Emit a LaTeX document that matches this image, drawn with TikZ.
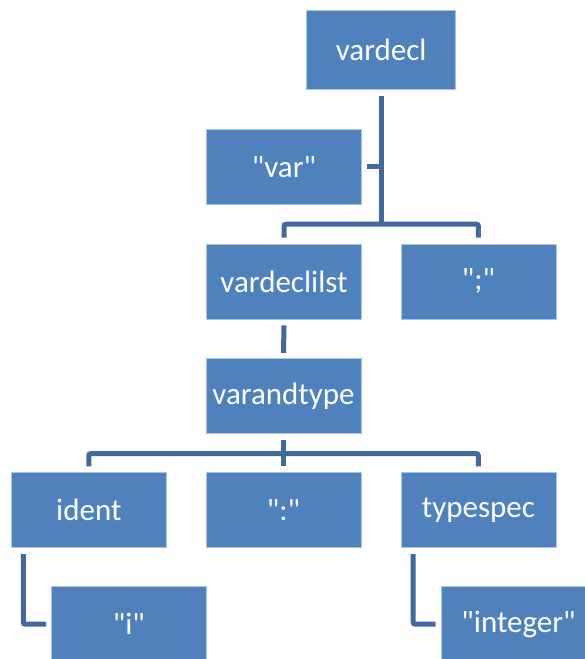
\documentclass[tikz,border=0pt]{standalone}
\usepackage{fontspec}
% plain family: no TeX ligature mapping, so " stays a straight quote
\newfontfamily\boxfont{Carlito}
\usetikzlibrary{calc}
\definecolor{boxfill}{HTML}{4F81BD}
\definecolor{boxedge}{HTML}{A9C3E3}
\definecolor{linkcol}{HTML}{41699C}
\tikzset{
  treebox/.style={rectangle, fill=boxfill, draw=boxedge, line width=0.7pt,
    minimum width=155pt, minimum height=75pt, inner sep=0pt,
    text=white, font=\boxfont\fontsize{31}{37}\selectfont},
  rootbox/.style={treebox, minimum width=149pt, minimum height=79pt},
  link/.style={draw=linkcol, line width=5pt, rounded corners=2pt}
}
\begin{document}
\begin{tikzpicture}[x=1pt, y=-1pt]
  \useasboundingbox (0,0) rectangle (585,659);
  \begin{scope}
    \clip (0,0) rectangle (585,659);
    % nodes
    \node[rootbox] (vardecl) at (381.2,50.3) {vardecl};
    \node[treebox] (var) at (284,166.8) {"var"};
    \node[treebox] (vardeclilst) at (284,281.5) {vardeclilst};
    \node[treebox] (semi) at (478.4,281.5) {";"};
    \node[treebox] (varandtype) at (283.5,395.8) {varandtype};
    \node[treebox] (ident) at (88.8,510.2) {ident};
    \node[treebox] (colon) at (283.5,510.2) {":"};
    \node[treebox] (typespec) at (478.4,510.2) {typespec};
    \node[treebox] (ival) at (128.9,624.2) {"i"};
    \node[treebox] (integer) at (518.5,624.2) {"integer"};

    % vardecl children
    \coordinate (bar1) at ($(vardecl.south)+(0,134)$);
    \draw[link] ($(vardecl.south)+(0,6)$) -- ($(bar1)+(0,1)$);
    \draw[link] ($(vardeclilst.north)+(0,-6)$) |- (bar1) -| ($(semi.north)+(0,-6)$);
    \draw[link] ($(var.east)+(5,0)$) -- (var.east -| vardecl.south);

    % vardeclilst -> varandtype
    \draw[link] ($(vardeclilst.south)+(0,6)$) -- ($(varandtype.north)+(0,-5)$);

    % varandtype children
    \coordinate (bar2) at ($(varandtype.south)+(0,20)$);
    \draw[link] ($(varandtype.south)+(0,6)$) -- ($(colon.north)+(0,-6)$);
    \draw[link] ($(ident.north)+(0,-6)$) |- (bar2) -| ($(typespec.north)+(0,-6)$);

    % leaf links
    \draw[link] ($(ident.south west)+(12.3,6)$) |- ($(ival.west)+(-5,0)$);
    \draw[link] ($(typespec.south west)+(12.6,6)$) |- ($(integer.west)+(-5,0)$);
  \end{scope}
\end{tikzpicture}
\end{document}
